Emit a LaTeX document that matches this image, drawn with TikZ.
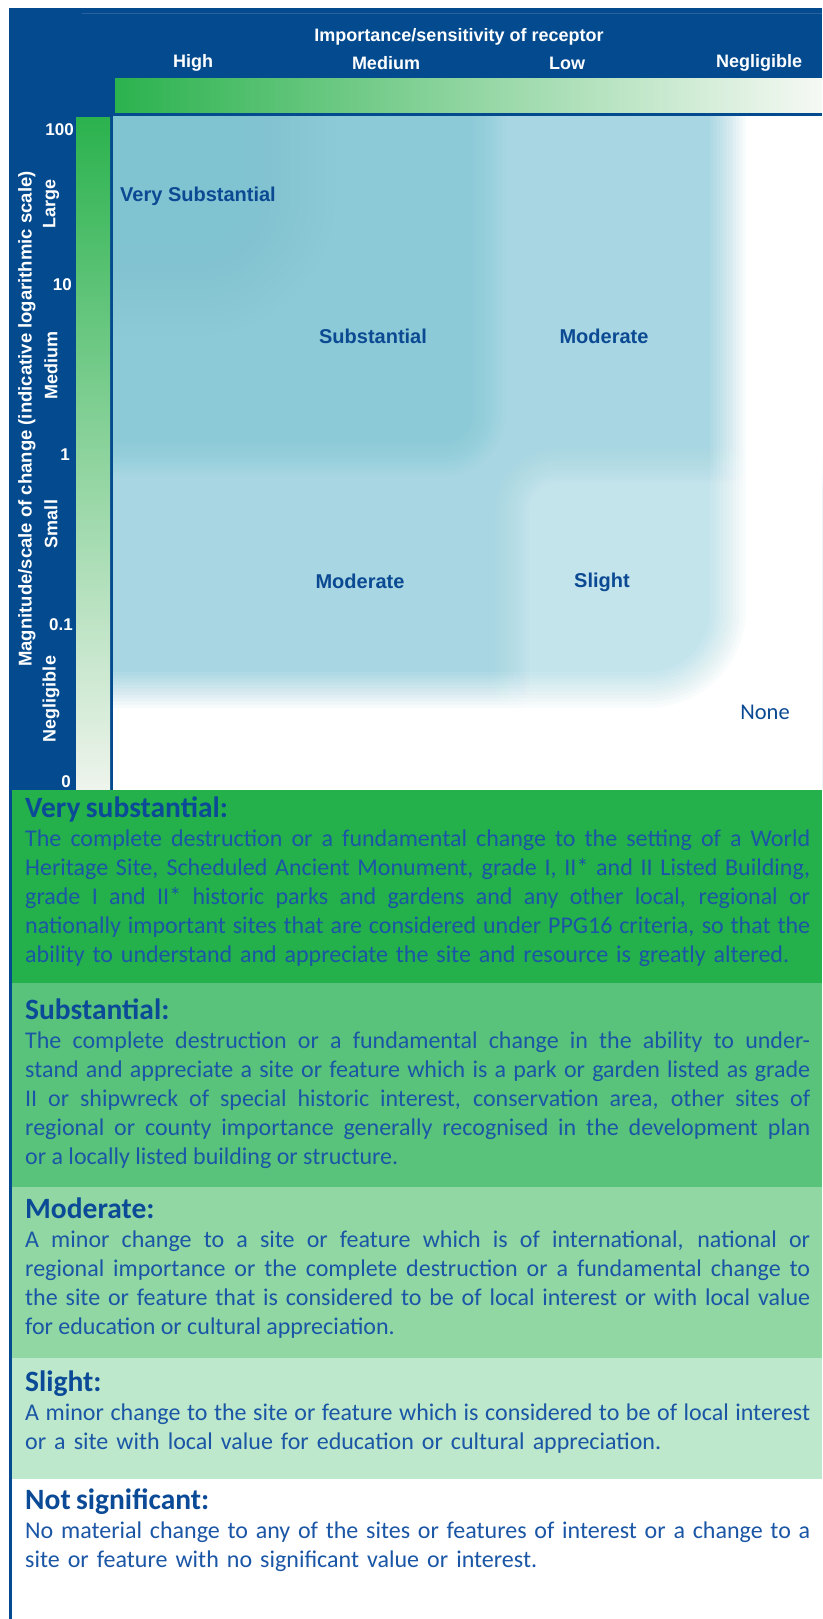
\documentclass[tikz,border=0pt]{standalone}
\usepackage{fontspec}
\setmainfont{Liberation Sans}
\newfontfamily\bodyfont{Carlito}
\definecolor{frame}{HTML}{034A8E}
\definecolor{frameline}{HTML}{2A62A0}
\definecolor{gA}{HTML}{24B04B}
\definecolor{gB}{HTML}{5AC37B}
\definecolor{gC}{HTML}{90D7A4}
\definecolor{gD}{HTML}{BDE8CB}
\definecolor{barg}{HTML}{2BB24E}
\definecolor{barw}{HTML}{F6F9F4}
\definecolor{barwv}{HTML}{EEF4EC}
\definecolor{cMod}{HTML}{A8D6E2}
\definecolor{cSub}{HTML}{8CCAD7}
\definecolor{cVS}{HTML}{80C3D1}
\definecolor{cSl}{HTML}{C4E4EC}
\definecolor{zonetxt}{HTML}{0B4A93}
\definecolor{headtxt}{HTML}{0B4A96}
\definecolor{bodytxt}{HTML}{1A56A5}
% blurred rounded box: color, x1, y1, x2, y2, blur, radius
\newcommand\softbox[7]{%
  \foreach \k in {1,...,12}{%
    \pgfmathsetmacro\dd{#6*(1-2*(\k-1)/11)}%
    \pgfmathsetmacro\op{1/(13-\k)}%
    \pgfmathsetmacro\rr{max(#7+\dd,0.5)}%
    \fill[#1, fill opacity=\op, rounded corners=\rr pt]
      ({#2-(\dd)},{#3-(\dd)}) rectangle ({#4+(\dd)},{#5+(\dd)});
  }%
}
% soft fade to white outside a rounded box whose right/bottom edge is x2,y2: x2, y2, blur, radius
\newcommand\whitefade[4]{%
  \foreach \k in {1,...,12}{%
    \pgfmathsetmacro\dd{#3*(-1+2*(\k-1)/11)}%
    \pgfmathsetmacro\op{1/(13-\k)}%
    \pgfmathsetmacro\rr{max(#4+\dd,0.5)}%
    \fill[white, fill opacity=\op, even odd rule] (-300,-300) rectangle (1200,1200)
      [rounded corners=\rr pt] (-200,-200) rectangle ({#1+(\dd)},{#2+(\dd)});
  }%
}
\newcommand\tightsp{\spaceskip=5.4pt plus 8pt minus 3pt\relax}
\newcommand\phead[1]{\tightsp\rule{0pt}{22pt}{\fontsize{29.5}{29}\selectfont\bfseries\color{headtxt}#1}}
\newcommand\jl[1]{\makebox[\linewidth][s]{#1}}
\newcommand\lastl[2]{\makebox[#1pt][s]{#2}}
\begin{document}
\begin{tikzpicture}[x=1pt,y=-1pt,
  hdr/.style={text=white,font=\bfseries\fontsize{18}{20}\selectfont,inner sep=0pt},
  tick/.style={text=white,font=\bfseries\fontsize{17}{19}\selectfont,inner sep=0pt,anchor=east},
  side/.style={text=white,font=\bfseries\fontsize{18}{20}\selectfont,inner sep=0pt,rotate=90},
  zone/.style={text=zonetxt,font=\bfseries\fontsize{20}{22}\selectfont,inner sep=0pt},
  panel/.style={anchor=north west,inner sep=0pt,text width=785pt,align=left,text=bodytxt,
    font=\bodyfont\fontsize{24}{29}\selectfont},
]
\useasboundingbox (0,0) rectangle (822,1619);
\fill[white] (0,0) rectangle (822,1619);
% blue frame of the chart part
\fill[frame] (9,8) rectangle (822,790);
\draw[frameline, line width=0.8pt] (82,13.5) -- (822,13.5);
% gradient bars
\shade[left color=barg, right color=barw] (115,78) rectangle (822,112);
\shade[top color=barg, bottom color=barwv] (76,117) rectangle (110,789);
% chart area
\fill[white] (113,116) rectangle (822,789);
\begin{scope}
  \clip (113,116) rectangle (822,789);
  \fill[cMod] (113,116) rectangle (822,789);
  \softbox{cSl}{512}{466}{950}{950}{17}{45}
  \softbox{cSub}{40}{40}{488}{458}{18}{45}
  \softbox{cVS}{20}{20}{285}{285}{50}{90}
  \whitefade{728}{690}{18}{80}
\end{scope}
% lower panels
\fill[frame] (9,789) rectangle (12,1619);
\fill[gA] (12,790) rectangle (822,983);
\fill[gB] (12,983) rectangle (822,1187);
\fill[gC] (12,1187) rectangle (822,1358);
\fill[gD] (12,1358) rectangle (822,1479);
% top axis
\node[hdr] (title) at (459,37) {Importance/sensitivity of receptor};
\node[hdr] (hHigh) at (193,63) {High};
\node[hdr] (hMed) at (386,63) {Medium};
\node[hdr] (hLow) at (567,63) {Low};
\node[hdr] (hNeg) at (759,63) {Negligible};
% side axis
\node[side, font=\bfseries\fontsize{18.5}{20}\selectfont] (vtitle) at (27,419) {Magnitude/scale of change (indicative logarithmic scale)};
\node[side] (vLarge) at (51,204) {Large};
\node[side] (vMed) at (51,365) {Medium};
\node[side] (vSmall) at (51,524) {Small};
\node[side] (vNeg) at (51,699) {Negligible};
\node[tick] (t100) at (74,130) {100};
\node[tick] (t10) at (72,285) {10};
\node[tick] (t1) at (70,455) {1};
\node[tick] (t01) at (73,625) {0.1};
\node[tick] (t0) at (71,782) {0};
% zone labels
\node[zone, anchor=west] (zVS) at (120,196) {Very Substantial};
\node[zone] (zS) at (373,336) {Substantial};
\node[zone] (zM1) at (604,336) {Moderate};
\node[zone] (zM2) at (360,581) {Moderate};
\node[zone] (zSl) at (602,582) {Slight};
\node[text=zonetxt, font=\bodyfont\fontsize{22.5}{24}\selectfont, inner sep=0pt] (zN) at (765,712) {None};
% descriptions
\node[panel] (pVS) at (25,795) {\phead{Very substantial:}\\
\jl{The complete destruction or a fundamental change to the setting of a World}\\
\jl{Heritage Site, Scheduled Ancient Monument, grade I, II* and II Listed Building,}\\
\jl{grade I and II* historic parks and gardens and any other local, regional or}\\
\jl{nationally important sites that are considered under PPG16 criteria, so that the}\\
\lastl{764}{ability to understand and appreciate the site and resource is greatly altered.}};
\node[panel] (pS) at (25,997) {\phead{Substantial:}\\
\jl{The complete destruction or a fundamental change in the ability to under-}\\
\jl{stand and appreciate a site or feature which is a park or garden listed as grade}\\
\jl{II or shipwreck of special historic interest, conservation area, other sites of}\\
\jl{regional or county importance generally recognised in the development plan}\\
or a locally listed building or structure.};
\node[panel] (pM) at (25,1196) {\phead{Moderate:}\\
\jl{A minor change to a site or feature which is of international, national or}\\
\jl{regional importance or the complete destruction or a fundamental change to}\\
\jl{the site or feature that is considered to be of local interest or with local value}\\
for education or cultural appreciation.};
\node[panel] (pSl) at (25,1369) {\phead{Slight:}\\
\jl{A minor change to the site or feature which is considered to be of local interest}\\
\lastl{636}{or a site with local value for education or cultural appreciation.}};
\node[panel] (pNS) at (25,1487) {\phead{Not significant:}\\
\jl{No material change to any of the sites or features of interest or a change to a}\\
\lastl{512}{site or feature with no significant value or interest.}};
\end{tikzpicture}
\end{document}
